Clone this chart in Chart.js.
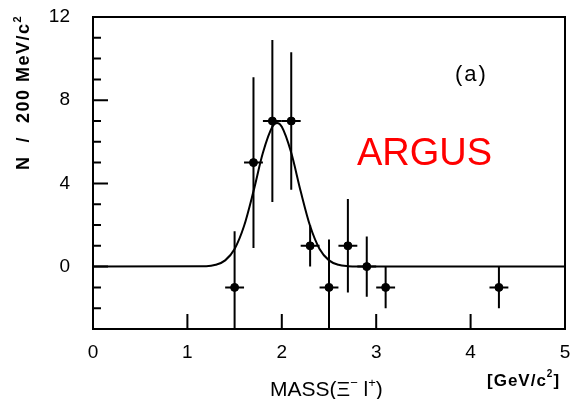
<!DOCTYPE html>
<html>
<head>
<meta charset="utf-8">
<script src="https://cdn.jsdelivr.net/npm/chart.js@4.4.1/dist/chart.umd.min.js"></script>
<style>
  html, body { margin: 0; padding: 0; background: #fff; }
  #wrap { width: 571px; height: 399px; position: relative; }
</style>
</head>
<body>
<div id="wrap"><canvas id="c" width="571" height="399"></canvas></div>
<script>
// ── DATA ─────────────────────────────────────
const massX   = [1.5, 1.7, 1.9, 2.1, 2.3, 2.5, 2.7, 2.9, 3.1, 4.3];
const counts  = [-1, 5, 7, 7, 1, -1, 1, 0, -1, -1];
const errY    = [2.7, 4.1, 3.9, 3.3, 1.0, 2.3, 2.25, 1.45, 1.0, 1.0];
const errX    = [0.1, 0.1, 0.1, 0.1, 0.1, 0.1, 0.1, 0.1, 0.1, 0.1];

const fitX = [0, 1.2, 1.3, 1.4, 1.5, 1.6, 1.7, 1.8, 1.9, 1.95, 2.0, 2.1, 2.2, 2.3, 2.4, 2.5, 2.6, 2.7, 2.8, 5];
const fitY = [0, 0.02, 0.09, 0.3, 0.85, 1.95, 3.62, 5.47, 6.72, 6.9, 6.72, 5.47, 3.62, 1.95, 0.85, 0.3, 0.09, 0.02, 0, 0];

const xTicks = [0, 1, 2, 3, 4, 5];
const yTicks = [0, 4, 8, 12];

const FONT = '"Liberation Sans", Arial, sans-serif';

// ── PLUGINS ──────────────────────────────────
const errorBars = {
  id: 'errorBars',
  afterDatasetsDraw(chart) {
    const { ctx, chartArea: a, scales: { x, y } } = chart;
    ctx.save();
    ctx.beginPath();
    ctx.rect(a.left, a.top, a.right - a.left, a.bottom - a.top);
    ctx.clip();
    ctx.strokeStyle = '#000';
    ctx.lineWidth = 2;
    massX.forEach((m, i) => {
      const px = x.getPixelForValue(m);
      const py = y.getPixelForValue(counts[i]);
      ctx.beginPath();
      ctx.moveTo(px, y.getPixelForValue(counts[i] + errY[i]));
      ctx.lineTo(px, y.getPixelForValue(counts[i] - errY[i]));
      ctx.moveTo(x.getPixelForValue(m - errX[i]), py);
      ctx.lineTo(x.getPixelForValue(m + errX[i]), py);
      ctx.stroke();
    });
    ctx.restore();
  }
};

const frame = {
  id: 'frame',
  afterDraw(chart) {
    const { ctx, chartArea: a, scales: { x, y } } = chart;
    ctx.save();
    ctx.strokeStyle = '#000';
    ctx.lineWidth = 2;
    ctx.strokeRect(a.left, a.top, a.right - a.left, a.bottom - a.top);
    // inward ticks
    ctx.beginPath();
    for (let v = -3; v <= 12; v++) {
      const py = y.getPixelForValue(v);
      const len = v % 4 === 0 ? 15 : 8;
      ctx.moveTo(a.left, py);
      ctx.lineTo(a.left + len, py);
    }
    [1, 2, 3, 4].forEach(v => {
      const px = x.getPixelForValue(v);
      ctx.moveTo(px, a.bottom);
      ctx.lineTo(px, a.bottom - 15);
    });
    ctx.stroke();

    // texts
    ctx.fillStyle = '#000';
    ctx.textBaseline = 'alphabetic';
    ctx.textAlign = 'left';
    ctx.font = `22px ${FONT}`;
    ctx.letterSpacing = '2px';
    ctx.fillText('(a)', 455, 81);
    ctx.letterSpacing = '0px';

    ctx.fillStyle = '#ff0000';
    ctx.font = `38px ${FONT}`;
    ctx.fillText('ARGUS', 357, 165);

    // x title
    ctx.fillStyle = '#000';
    let cx = 270;
    const put = (t, f, dy) => { ctx.font = f; ctx.fillText(t, cx, 396 + dy); cx += ctx.measureText(t).width; };
    put('MASS(Ξ', `21px ${FONT}`, 0);
    put('−', `13px ${FONT}`, -9);
    put(' l', `21px ${FONT}`, 0);
    put('+', `13px ${FONT}`, -9);
    put(')', `21px ${FONT}`, 0);

    ctx.letterSpacing = '1px';
    ctx.font = `bold 17px ${FONT}`;
    ctx.fillText('[GeV/c', 487, 386);
    let w = ctx.measureText('[GeV/c').width;
    ctx.font = `bold 10px ${FONT}`;
    ctx.fillText('2', 487 + w, 377);
    let w2 = ctx.measureText('2').width;
    ctx.font = `bold 17px ${FONT}`;
    ctx.fillText(']', 487 + w + w2, 386);

    // y title
    ctx.translate(29, 170);
    ctx.rotate(-Math.PI / 2);
    ctx.letterSpacing = '1.5px';
    ctx.font = `bold 18px ${FONT}`;
    ctx.fillText('N  /  200 MeV/c', 0, 0);
    const yw = ctx.measureText('N  /  200 MeV/c').width;
    ctx.font = `bold 11px ${FONT}`;
    ctx.fillText('2', yw, -8);
    ctx.restore();
  }
};

// ── CHART ────────────────────────────────────
new Chart(document.getElementById('c'), {
  type: 'scatter',
  data: {
    datasets: [
      {
        type: 'line',
        data: fitX.map((v, i) => ({ x: v, y: fitY[i] })),
        borderColor: '#000',
        borderWidth: 2,
        pointRadius: 0,
        cubicInterpolationMode: 'monotone',
        fill: false,
      },
      {
        data: massX.map((v, i) => ({ x: v, y: counts[i] })),
        backgroundColor: '#000',
        borderColor: '#000',
        pointRadius: 4,
      }
    ]
  },
  options: {
    responsive: false,
    animation: false,
    layout: { padding: { top: 17, right: 6, left: 0, bottom: 0 } },
    plugins: { legend: { display: false }, tooltip: { enabled: false } },
    scales: {
      x: {
        type: 'linear', min: 0, max: 5,
        afterBuildTicks: s => { s.ticks = xTicks.map(v => ({ value: v })); },
        afterFit: s => { s.height = 70; s.paddingLeft = 0; s.paddingRight = 0; },
        grid: { display: false, drawTicks: false },
        border: { display: false },
        ticks: { color: '#000', font: { family: FONT, size: 19 }, padding: 12, maxRotation: 0 }
      },
      y: {
        type: 'linear', min: -3, max: 12,
        afterBuildTicks: s => { s.ticks = yTicks.map(v => ({ value: v })); },
        afterFit: s => { s.width = 93; s.paddingTop = 0; s.paddingBottom = 0; },
        grid: { display: false, drawTicks: false },
        border: { display: false },
        ticks: { color: '#000', font: { family: FONT, size: 19 }, padding: 23 }
      }
    }
  },
  plugins: [errorBars, frame]
});
</script>
</body>
</html>
